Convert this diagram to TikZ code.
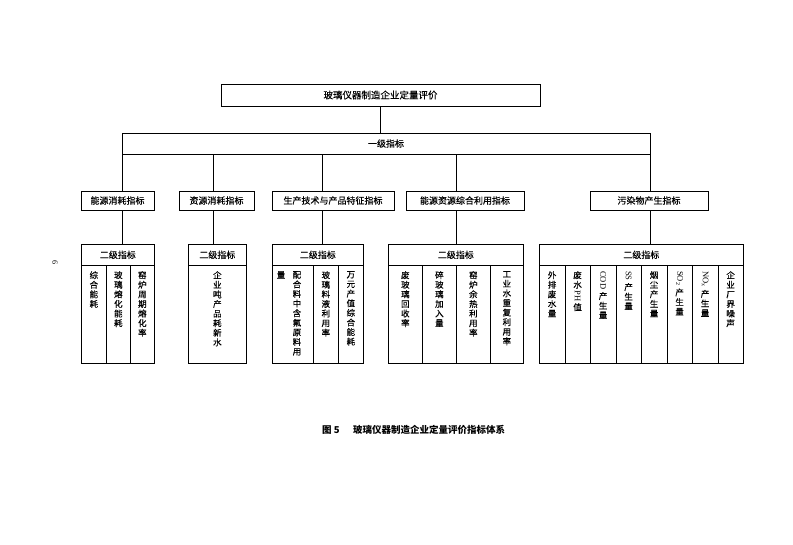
\documentclass[tikz,border=0pt]{standalone}
\usepackage{fontspec}
\usepackage{graphicx}
\setmainfont{Liberation Serif}
\newfontfamily\cjk[RawFeature={embolden=0.4}]{Noto Sans CJK SC}
\newfontfamily\cjkcap{Noto Sans CJK SC}
\newcommand{\rl}[1]{\rotatebox[origin=c]{-90}{\fontspec{Liberation Serif}#1}}
\begin{document}
\begin{tikzpicture}[x=1pt,y=-1pt,
  bx/.style={draw, line width=0.7pt, inner sep=0pt, font=\cjk\fontsize{9}{10}\selectfont},
  colbox/.style={draw, line width=0.7pt, inner sep=0pt, minimum height=98pt},
  coltext/.style={inner sep=0pt, align=center, font=\cjk\fontsize{8.5}{9.6}\selectfont},
  conn/.style={line width=0.7pt}]
\useasboundingbox (0,0) rectangle (793,545);
% page number
\node[rotate=-90, font=\fontsize{8}{9}\selectfont] (pg) at (55,263) {6};
% top
\node[bx, minimum width=319pt, minimum height=22pt, font=\cjk\fontsize{9.5}{10}\selectfont] (top) at (380.5,95) {玻璃仪器制造企业定量评价};
\node[bx, minimum width=528pt, minimum height=21pt] (l1) at (386,143.5) {一级指标};
\draw[conn] (top.south) -- (top.south |- l1.north);
% level 2
\node[bx, minimum width=73pt, minimum height=19pt] (b1) at (117.5,200.5) {能源消耗指标};
\node[bx, minimum width=75pt, minimum height=19pt] (b2) at (216.5,200.5) {资源消耗指标};
\node[bx, minimum width=122pt, minimum height=19pt] (b3) at (333,200.5) {生产技术与产品特征指标};
\node[bx, minimum width=118pt, minimum height=19pt] (b4) at (465,200.5) {能源资源综合利用指标};
\node[bx, minimum width=118pt, minimum height=19pt] (b5) at (649,200.5) {污染物产生指标};
% headers
\node[bx, minimum width=73pt, minimum height=21pt, anchor=north west] (h1) at (81,244) {二级指标};
\node[bx, minimum width=58pt, minimum height=21pt, anchor=north west] (h2) at (188,244) {二级指标};
\node[bx, minimum width=91pt, minimum height=21pt, anchor=north west] (h3) at (272,244) {二级指标};
\node[bx, minimum width=135pt, minimum height=21pt, anchor=north west] (h4) at (388,244) {二级指标};
\node[bx, minimum width=204pt, minimum height=21pt, anchor=north west] (h5) at (539,244) {二级指标};
% connector x positions
\coordinate (x1) at (122,0);
\coordinate (x2) at (213,0);
\coordinate (x3) at (322,0);
\coordinate (x4) at (456,0);
\coordinate (x5) at (650,0);
\foreach \i in {1,...,5}{
  \draw[conn] (x\i |- l1.south) -- (x\i |- b\i.north);
  \draw[conn] (x\i |- b\i.south) -- (x\i |- h\i.north);
}
% columns
\newcommand{\colm}[4]{%
  \node[colbox, minimum width=#3pt, anchor=north west] (#1) at (#2,265) {};
  \node[coltext, anchor=north] (#1t) at ([yshift=-6pt]#1.north) {#4};}
% group 1
\colm{c11}{81}{25}{综\\合\\能\\耗}
\colm{c12}{106}{24}{玻\\璃\\熔\\化\\能\\耗}
\colm{c13}{130}{24}{窑\\炉\\周\\期\\熔\\化\\率}
% group 2
\colm{c21}{188}{58}{企\\业\\吨\\产\\品\\耗\\新\\水}
% group 3
\node[colbox, minimum width=41pt, anchor=north west] (c31) at (272,265) {};
\node[coltext, anchor=north] (c31a) at (297,271) {配\\合\\料\\中\\含\\氟\\原\\料\\用};
\node[coltext, anchor=north] (c31b) at (281,271) {量};
\colm{c32}{313}{25}{玻\\璃\\料\\液\\利\\用\\率}
\colm{c33}{338}{25}{万\\元\\产\\值\\综\\合\\能\\耗}
% group 4
\colm{c41}{388}{34}{废\\玻\\璃\\回\\收\\率}
\colm{c42}{422}{34}{碎\\玻\\璃\\加\\入\\量}
\colm{c43}{456}{34}{窑\\炉\\余\\热\\利\\用\\率}
\colm{c44}{490}{33}{工\\业\\水\\重\\复\\利\\用\\率}
% group 5
\colm{c51}{539}{25.5}{外\\排\\废\\水\\量}
\colm{c52}{564.5}{25.5}{废\\水\\[1pt]\rl{PH}\\[1pt]值}
\colm{c53}{590}{25.5}{\rl{COD}\\[2pt]产\\生\\量}
\colm{c54}{615.5}{25.5}{\rl{SS}\\[2pt]产\\生\\量}
\colm{c55}{641}{25.5}{烟\\尘\\产\\生\\量}
\colm{c56}{666.5}{25.5}{\rl{SO\textsubscript{2}}\\[2pt]产\\生\\量}
\colm{c57}{692}{25.5}{\rl{NO\textsubscript{x}}\\[2pt]产\\生\\量}
\colm{c58}{717.5}{25.5}{企\\业\\厂\\界\\噪\\声}
% caption
\node[anchor=west, inner sep=0pt, font=\cjkcap\bfseries\fontsize{9.5}{10}\selectfont] (capa) at (322,430) {图 5};
\node[anchor=west, inner sep=0pt, font=\cjkcap\bfseries\fontsize{9.5}{10}\selectfont] (capb) at (353,430) {玻璃仪器制造企业定量评价指标体系};
\end{tikzpicture}
\end{document}
